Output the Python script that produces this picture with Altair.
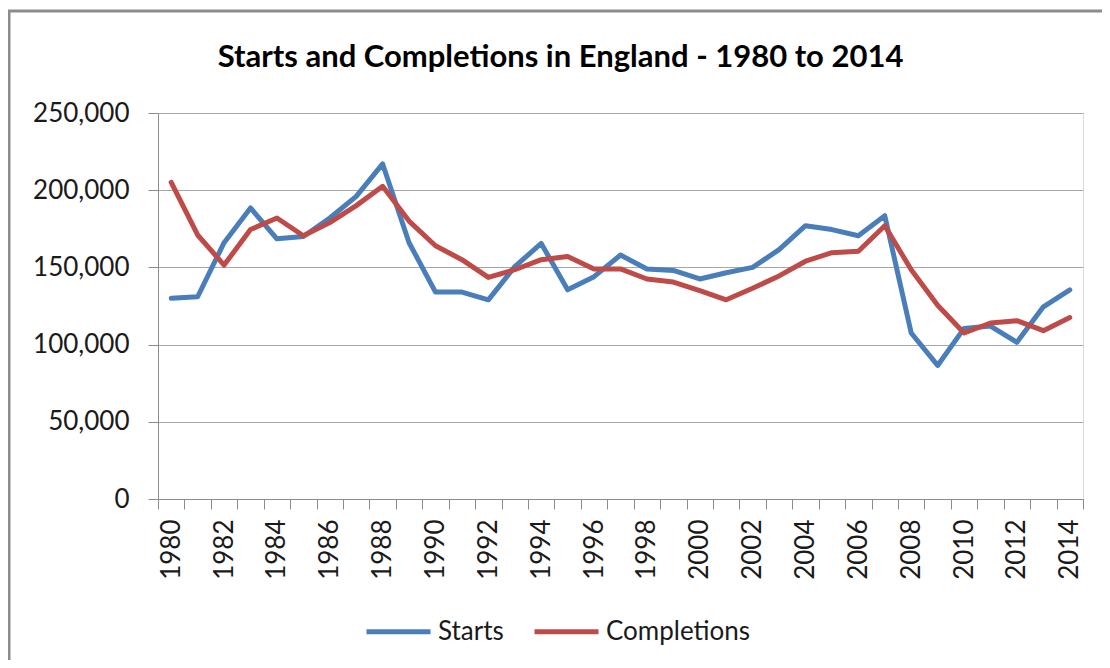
import altair as alt
import pandas as pd

years = list(range(1980, 2015))
starts = [130000, 131000, 166000, 188500, 168500, 170000, 182000, 196000, 217000, 166000,
          134000, 134000, 129000, 150500, 165500, 135500, 144000, 158000, 149000, 148000,
          142500, 146500, 150000, 161500, 177000, 174500, 170500, 183500, 107500, 86500,
          110500, 112000, 101500, 124500, 135500]
completions = [205000, 171000, 151500, 174500, 182000, 170500, 179000, 190000, 202500, 180000,
               164000, 155000, 143500, 148500, 155000, 157000, 149000, 149000, 142500, 140500,
               135000, 129000, 136500, 144500, 154000, 159500, 160500, 177000, 148500, 125500,
               107500, 114000, 115500, 109000, 117500]
series_names = ["Starts", "Completions"]
series_colors = ["#4A7EBB", "#BE4B48"]
y_ticks = [0, 50000, 100000, 150000, 200000, 250000]

rows = []
for name, vals in zip(series_names, [starts, completions]):
    for i, (yr, v) in enumerate(zip(years, vals)):
        rows.append({"Year": yr, "Value": v, "Series": name, "order": series_names.index(name)})
df = pd.DataFrame(rows)

FONT = "Lato"
GRAY = "#8C8C8C"

lines = alt.Chart(df).mark_line(strokeWidth=5, strokeJoin="round", strokeCap="round").encode(
    x=alt.X("Year:O", bandPosition=0.5,
            scale=alt.Scale(type="band", paddingInner=0, paddingOuter=0),
            axis=alt.Axis(title=None, labelAngle=270, labelAlign="right", labelBaseline="middle",
                          labelExpr="datum.value % 2 == 0 ? datum.value : ''",
                          tickBand="extent", tickSize=10, tickColor=GRAY, domainColor=GRAY,
                          labelPadding=10, labelFont=FONT, labelFontSize=26, labelColor="#1a1a1a",
                          grid=False, labelOverlap=False)),
    y=alt.Y("Value:Q", scale=alt.Scale(domain=[0, 250000], nice=False),
            axis=alt.Axis(title=None, values=y_ticks, format=",.0f", tickSize=10, tickColor=GRAY,
                          domainColor=GRAY, gridColor="#A6A6A6", grid=True, labelPadding=19,
                          labelFont=FONT, labelFontSize=26, labelColor="#1a1a1a")),
    color=alt.Color("Series:N", sort=series_names,
                    scale=alt.Scale(domain=series_names, range=series_colors),
                    legend=alt.Legend(title=None, orient="none", legendX=206, legendY=484,
                                      direction="horizontal", symbolType="stroke",
                                      symbolSize=4096, symbolStrokeWidth=5,
                                      labelFont=FONT, labelFontSize=26, labelColor="#1a1a1a",
                                      labelOffset=5, columnPadding=20)),
    detail="order:O",
)

frame = alt.Chart(pd.DataFrame({"a": [0]})).mark_rect(
    fillOpacity=0, stroke=GRAY, strokeWidth=3
).encode(x=alt.value(-149), x2=alt.value(1000), y=alt.value(-102), y2=alt.value(700))

chart = alt.layer(frame, lines).properties(
    width=925, height=386,
    autosize="none",
    padding={"left": 150, "top": 105, "right": 19, "bottom": 161},
    title=alt.TitleParams("Starts and Completions in England - 1980 to 2014",
                          font=FONT, fontSize=31, fontWeight="bold", color="#000000",
                          anchor="middle", dx=-60, offset=-64),
).configure_view(stroke=None).configure(background="white")

chart.save("out.html", embed_options={"renderer": "svg", "actions": False})
